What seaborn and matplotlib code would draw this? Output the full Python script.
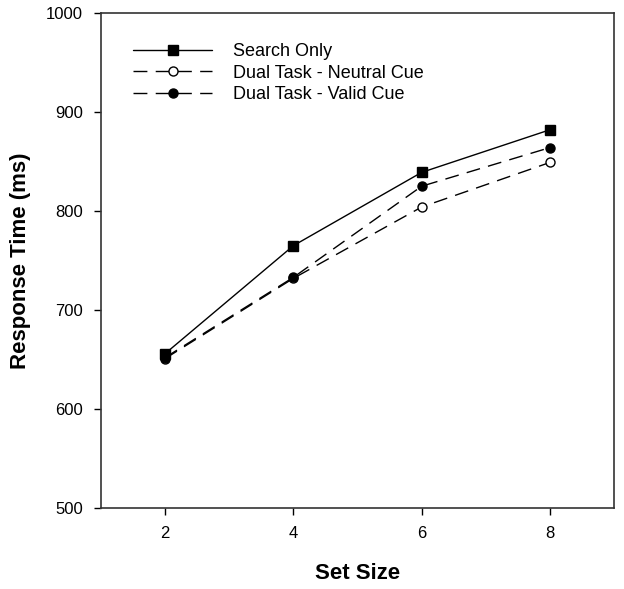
import pandas as pd
import matplotlib.pyplot as plt
import seaborn as sns

# Data
set_size = [2, 4, 6, 8]
search_only = [656, 765, 839, 882]
dual_neutral = [651, 732, 804, 849]
dual_valid = [652, 733, 825, 864]

sns.set_theme(style="white")
plt.rcParams['font.family'] = ['Liberation Sans', 'DejaVu Sans']
plt.rcParams['text.color'] = 'black'
plt.rcParams['axes.labelcolor'] = 'black'

df = pd.DataFrame({
    'Set Size': set_size * 3,
    'RT': search_only + dual_neutral + dual_valid,
    'Condition': (['Search Only'] * 4 + ['Dual Task - Neutral Cue'] * 4
                  + ['Dual Task - Valid Cue'] * 4),
})

fig = plt.figure(figsize=(6.24, 5.89), dpi=100)
ax = fig.add_axes([0.162, 0.1375, 0.822, 0.8405])

styles = {
    'Search Only': dict(marker='s', mfc='black', ls='-', ms=7),
    'Dual Task - Neutral Cue': dict(marker='o', mfc='white', ls=(0, (10, 6)), ms=6.5),
    'Dual Task - Valid Cue': dict(marker='o', mfc='black', ls=(0, (10, 6)), ms=6.5),
}

for cond, st in styles.items():
    sub = df[df['Condition'] == cond]
    sns.lineplot(data=sub, x='Set Size', y='RT', ax=ax, color='black',
                 linewidth=1.0, marker=st['marker'], markersize=st['ms'],
                 markerfacecolor=st['mfc'], markeredgecolor='black',
                 markeredgewidth=1.0, linestyle=st['ls'], label=cond)

ax.set_xlim(1, 9)
ax.set_ylim(500, 1000)
ax.set_xticks(set_size)
ax.set_yticks([500, 600, 700, 800, 900, 1000])
ax.tick_params(direction='out', length=5, width=1, labelsize=12, pad=8,
               bottom=True, left=True, colors='black')
for s in ax.spines.values():
    s.set_color('#333333')
    s.set_linewidth(1.2)

ax.set_xlabel('Set Size', fontsize=16, fontweight='bold', labelpad=16)
ax.set_ylabel('Response Time (ms)', fontsize=16, fontweight='bold', labelpad=11)

ax.legend(loc='upper left', bbox_to_anchor=(0.062, 0.939), frameon=False,
          fontsize=13, handlelength=4.4, handletextpad=1.15, labelspacing=0.25,
          borderpad=0, borderaxespad=0)

plt.savefig('out.png', dpi=100)
